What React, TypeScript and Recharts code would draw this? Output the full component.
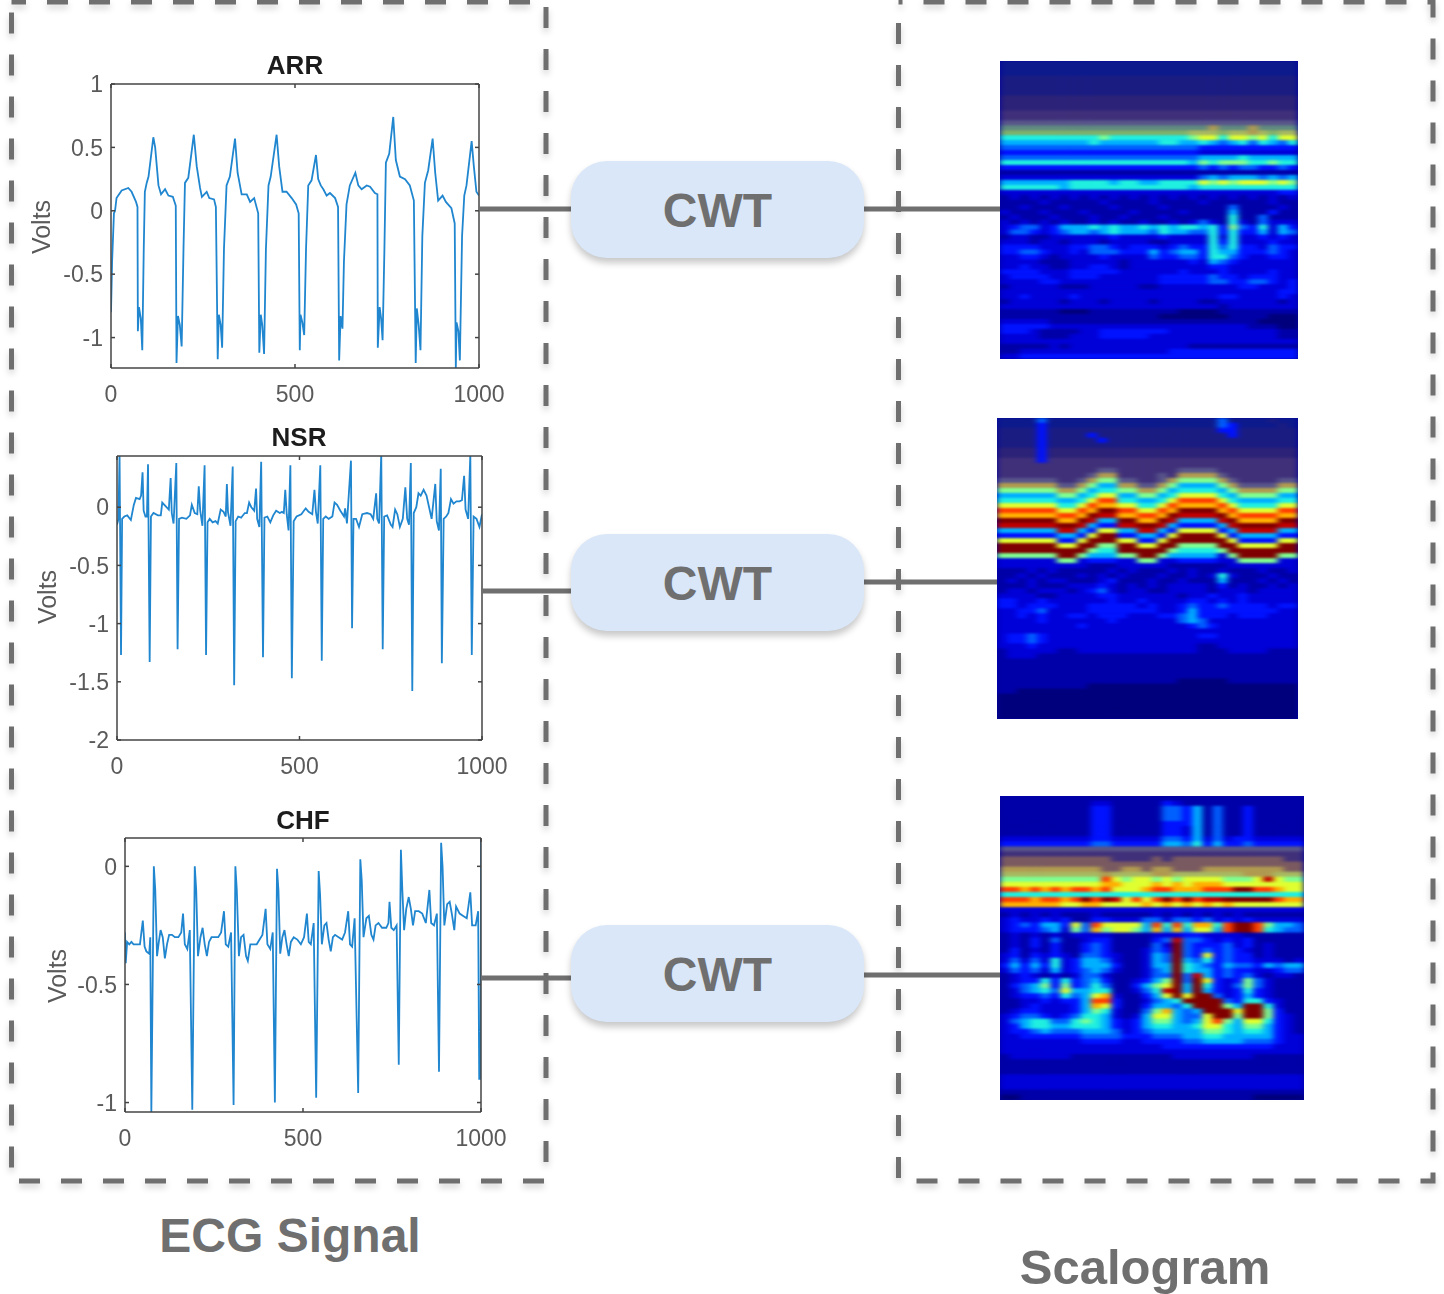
import { LineChart, Line, XAxis, YAxis, ScatterChart, Scatter } from 'recharts';

// ECG traces: [sample, volts]
const arrSignal = [
  [0,-0.8],[3,-0.4],[8,-0.02],[11,0],[15,0.1],[29,0.16],[47,0.18],[56,0.15],[68,0.07],[72,0.03],[73,-0.95],[76,-0.76],[81,-0.85],[85,-1.1],[89,-0.3],[92,0.15],[97,0.22],[102,0.27],[115,0.58],[120,0.5],[129,0.2],[136,0.13],[147,0.17],[156,0.12],[168,0.11],[176,0.04],
  [178,-1.2],[182,-0.83],[187,-0.9],[192,-1.07],[197,-0.3],[201,0.22],[210,0.26],[225,0.6],[233,0.35],[242,0.18],[247,0.11],[260,0.15],[267,0.1],[280,0.09],[285,0.03],
  [290,-1.17],[293,-0.82],[298,-0.9],[302,-1.08],[307,-0.3],[314,0.2],[323,0.27],[337,0.57],[344,0.3],[355,0.13],[369,0.13],[378,0.07],[389,0.1],[400,-0.02],
  [403,-1.12],[407,-0.82],[411,-0.9],[416,-1.13],[421,-0.3],[428,0.2],[434,0.27],[450,0.6],[457,0.35],[466,0.15],[477,0.15],[491,0.1],[503,0.05],[510,-0.02],
  [513,-1.1],[515,-0.82],[520,-0.88],[525,-0.98],[530,-0.3],[536,0.2],[545,0.24],[557,0.44],[563,0.25],[570,0.2],[577,0.17],[586,0.12],[595,0.14],[609,0.1],[617,0.03],
  [620,-1.18],[624,-0.83],[629,-0.93],[633,-0.4],[640,0.05],[649,0.2],[664,0.3],[672,0.2],[681,0.17],[695,0.2],[704,0.19],[717,0.14],[724,0.13],
  [725,-1.08],[730,-0.76],[734,-0.85],[738,-1.02],[743,-0.3],[747,0.38],[756,0.45],[767,0.74],[774,0.4],[785,0.27],[799,0.25],[812,0.2],[823,0.08],
  [828,-1.2],[831,-0.77],[836,-0.9],[841,-1.1],[846,-0.2],[853,0.22],[862,0.32],[874,0.57],[881,0.3],[889,0.08],[901,0.12],[910,0.07],[925,0.02],[934,-0.1],
  [937,-1.24],[939,-0.88],[944,-0.95],[948,-1.18],[954,-0.2],[960,0.12],[966,0.2],[980,0.55],[986,0.35],[993,0.15],[1000,0.12],
];

const nsrSignal = [
  [0,-0.15],[4,-0.1],[7,0.45],[11,-1.27],[14,-0.1],[20,-0.08],[28,-0.07],[38,-0.11],[46,0.02],[52,0.08],[62,0.07],[66,0.1],[70,0.3],[73,-0.03],[78,-0.08],[82,-0.08],[85,0.37],[89.5,-1.33],[93,-0.08],[100,-0.05],[112,-0.07],[120,-0.07],[124,0.04],[133,0.01],[142,-0.02],[147,0.25],[150,-0.05],[155,-0.14],[162.5,0.38],[166,-1.22],[170,-0.1],[178,-0.09],[190,-0.1],[200,-0.07],[205,0.02],[213,-0.05],[220,-0.06],[224,0.18],[228,-0.03],[234,-0.16],[240,0.36],[244,-1.27],
  [248,-0.13],[254,-0.1],[262,-0.13],[270,-0.12],[276,-0.14],[284,-0.02],[292,-0.04],[298,-0.08],[301,0.2],[304,-0.04],[311,-0.16],[317,0.35],[321,-1.53],[325,-0.12],[332,-0.08],[340,-0.09],[350,-0.05],[356,-0.05],[362,0.04],[368,0],[376,-0.03],[381,0.16],[384,-0.1],[390,-0.17],[395,0.39],[400,-1.29],[404,-0.09],[412,-0.08],[420,-0.13],[428,-0.07],[436,-0.03],[446,-0.05],[452,-0.04],[457,-0.05],[461,0.15],[465,-0.06],[470,-0.2],[475,0.36],[479,-1.47],
  [484,-0.12],[492,-0.08],[505,-0.06],[512,-0.03],[517,-0.01],[525,-0.04],[535,-0.06],[541,0.15],[545,-0.04],[550,-0.14],[557,0.36],[561,-1.32],[565,-0.1],[572,-0.08],[580,-0.1],[590,-0.08],[596,0.04],[603,0.02],[612,-0.03],[622,-0.08],[625,-0.01],[630,-0.14],[641,0.4],[644,-1.04],[648,-0.1],[655,-0.1],[663,-0.17],[672,-0.06],[685,-0.05],[695,-0.06],[702,-0.1],[710,0.12],[713,-0.1],[718,-0.14],[724,0.46],[728,-1.22],
  [732,-0.08],[740,-0.07],[750,-0.15],[755,-0.17],[762,-0.02],[768,-0.06],[775,-0.17],[783,-0.1],[790,0.17],[795,-0.1],[800,-0.15],[805,0.38],[809,-1.58],[813,-0.05],[820,0],[826,0.12],[832,0.1],[840,0.15],[848,0.1],[855,0],[862,-0.1],[872,0.2],[876,-0.12],[882,-0.2],[887,0.33],[890,-1.34],[895,-0.1],[902,-0.08],[908,-0.05],[915,0.07],[922,0.03],[930,0.05],[938,0.05],[945,0.06],[951,0.27],[955,-0.02],[962,-0.1],[968,0.45],[972,-1.27],[977,-0.08],[985,-0.1],[993,-0.17],[1000,-0.06],
];

const chfSignal = [
  [0,-0.28],[2,-0.41],[6,-0.32],[12,-0.33],[18,-0.32],[24,-0.33],[30,-0.33],[36,-0.33],[42,-0.33],[50,-0.23],[55,-0.34],[60,-0.36],[68,-0.37],[71,-0.3],[74,-1.04],[81,0],[85,-0.1],[90,-0.38],[95,-0.32],[100,-0.27],[106,-0.3],[112,-0.39],[118,-0.33],[124,-0.29],[132,-0.29],[140,-0.3],[150,-0.3],[158,-0.28],[163,-0.2],[168,-0.33],[175,-0.35],[182,-0.27],[189,-1.03],[196,0],[200,-0.1],[205,-0.38],[212,-0.3],[218,-0.26],[224,-0.33],[230,-0.38],[236,-0.32],[243,-0.3],[252,-0.3],[262,-0.3],[270,-0.28],[278,-0.19],[283,-0.33],[290,-0.34],[298,-0.28],[305,-1.01],[310,0],[314,-0.1],[320,-0.38],[326,-0.3],[333,-0.29],[340,-0.38],[345,-0.4],[352,-0.33],[360,-0.33],[370,-0.33],[378,-0.31],[386,-0.29],[395,-0.18],[400,-0.33],[408,-0.35],[415,-0.28],[421,-1],[427,-0.01],[431,-0.1],[436,-0.37],[442,-0.3],[448,-0.27],[454,-0.33],[460,-0.38],[466,-0.32],[474,-0.3],[484,-0.31],[494,-0.33],[503,-0.3],[511,-0.2],[516,-0.32],[522,-0.33],[530,-0.24],[537,-0.98],[544,-0.02],[548,-0.12],[553,-0.33],[560,-0.25],[566,-0.24],[572,-0.31],[578,-0.36],[584,-0.3],[590,-0.29],[600,-0.3],[610,-0.31],[618,-0.28],[627,-0.19],[632,-0.33],[638,-0.34],[645,-0.22],[655,-0.96],[661,0.03],[665,-0.06],[670,-0.3],[678,-0.22],[685,-0.21],[692,-0.29],[698,-0.31],[704,-0.25],[712,-0.24],[722,-0.26],[734,-0.26],[740,-0.24],[743,-0.15],[748,-0.26],[755,-0.27],[763,-0.25],[769,-0.84],[775,0.07],[779,-0.1],[784,-0.27],[790,-0.18],[797,-0.13],[803,-0.18],[809,-0.25],[815,-0.19],[825,-0.19],[835,-0.2],[845,-0.24],[855,-0.1],[860,-0.24],[868,-0.25],[876,-0.2],[882,-0.87],[888,0.1],[892,0],[897,-0.25],[905,-0.16],[912,-0.15],[918,-0.2],[925,-0.27],[930,-0.17],[940,-0.2],[950,-0.21],[960,-0.22],[970,-0.11],[975,-0.25],[985,-0.25],[992,-0.19],[995,-0.9],[999,-0.9],[1000,0.12],[1000,0],
];

const arrTicks = [-1, -0.5, 0, 0.5, 1];
const nsrTicks = [-2, -1.5, -1, -0.5, 0];
const chfTicks = [-1, -0.5, 0];
const sampleTicks = [0, 500, 1000];

// scalogram intensity, one string per row of 30 columns
const arrScalogram = [
  'mmmmmmmmmm mmmmmmmmmm mmmmmmmmmm','mmmmmmmmmm mmmmmmmmmm mmmmmmmmmm','mmmmmmmmmm mmmmmmmmmm mmmmmmmmmm',
  'nnnnnnnnnn nnnnnnnnnn nnnnnnnnnn','nnnnnnnnnn nnnnnnnnnn nnnnnnnnnn','nnnnnnnnnn nnnnnnnnnn nnnnnnnnnn','nnnnnnnnnn nnnnnnnnnn nnnnnnnnnn',
  'oooooooooo oooooooooo oooooooooo','oooooooooo oooooooooo oooooooooo','oooooooooo oooooooooo oooooooooo',
  'pppppppppp pppppppppp pppppppppp','pppppppppp pppppppppp pppppppppp',
  'qqqqqqqqqq qqqqqqqqqq qqqqqqqqqq','rrrrrrrrrr rrrrrrrrrr rtrrrtrrrr',
  'ssssssssss sssssssssv vvsvvtvsvv','6666666666 7666666667 8868878688','5555555556 5555556655 6545646546',
  '4444444444 4444444444 3333333333','3333333333 3333333333 2222222222','4444444444 4444444444 5555655555',
  '6666666666 6666666665 7677766766','3333333333 3333333333 4343443343','1111111111 1111111111 1111111111',
  '2222222222 2222222222 4545554545','5555555666 6566556666 8787888787','6666665666 6666666665 6666666666',
  '2222222222 2222222222 2222222233','1212121212 1212121212 1212121212','1111211111 2111121111 2111111211',
  '1121112111 1211112111 1114111121','2111211121 1112111121 1115111311','1211121112 1121112111 1116114111',
  '2121212112 1211211212 4216214222','2344235556 5655656566 5637436253','2443234554 5655546554 4636335254',
  '1221122222 2322223222 2626223232','2221221222 1222211222 2636222322','3333222334 4323332343 3646332433',
  '3344322324 4433353455 3655333432','2233212222 3222243344 3664322332','2222111222 2212222223 2543222222',
  '2232211223 3212222222 2332222222','3333222333 3322222232 2232222322','2333322333 2222223333 3433233322',
  '2222332222 2222223333 3443344323','1222221112 2222112222 2222332223','2222222222 2222222222 2222222233',
  '2232222322 2222222222 2233222232','1222221222 1222212222 1122222212','2222222222 2222222222 2212222222',
  '1111110001 1111111100 0011111111','1111111111 1111110000 0001111000','2222211111 1111111111 1111110000',
  '3333322222 2222222222 2222211100','3332111122 3333333222 2222222211','2222111222 3333322222 2222222211',
  '2222222222 2222222222 2222222222','1111121222 2222222221 1111111111','1122222222 2222222333 3333333333','2233333333 3333333333 3333333333',
];

const nsrScalogram = [
  'mmmm4mmmmm mmmmmmmmmm mm4mmmmnmm','mmmm3mmmmm mmmmmmmmmm mm43mmmmnm','nnnn3nnnnn nnnnnnnnnn nn33nnnnnn',
  'nnnn3nnnn3 nnnnnnnnnn nnn3nnnnnn','nnnn3nnnnn 3nnnnnnnnn nnnnnnnnnn','nnnn3nnnnn nnnnnnnnnn nnnnnnnnnn',
  'oooo3ooooo oooooooooo oooooooooo','oooo3ooooo oooooooooo oooooooooo','pppp3ppppp pppppppppp pppppppppp','pppppppppp pppppppppp pppppppppp',
  'pppppppppp qqppppppqq qqpppppppp','pppppppppq ttppppqptt ttqppppppp',
  'qqqqqqppqt 77qqppqt77 77tqppppqq','ttttttqqt7 55ttqqt755 557tqqqqtt','777777tt75 6677tt7566 6657tttt77',
  '5555557756 8855775688 8865777755','6666665568 aa665568aa aa86555566','888888668a 9988668a99 99a8666688',
  'aaaaaa88a9 ccaa88a9cc cc9a8888aa','999999aa9c bb99aa9cbb bbc9aaaa99','cccccc99cb 55cc99cb55 55bc9999cc',
  'bbbbbbccb5 33bbccb533 335bccccbb','555555bb53 8855bb5388 8835bbbb55','3333335538 cc33553 8cc cc83555533',
  '888888338c cc88338ccc ccc8333388','cccccc88cc 77cc88cc77 77cc8888cc','cccccccc c7 66ccccc766 667ccccccc',
  '777777cc75 5577cc7555 5527cccc77','2222227723 3322772233 3322777722','2222222221 1122222111 1112222222',
  '1112121111 1212111212 1121112112','1121211121 2121112112 1262111211','1212122111 2311121121 1151112121',
  '1112111222 3212121222 2131211212','1221222123 4212211222 2122212222','2222112222 3322222212 2322322222',
  '3322322222 2322322223 3232322222','3323332223 3333232234 3343333233','2233422223 3333332235 3333333322',
  '2232322332 3332223345 3332333222','2222322222 2322222245 4222222222','2222222232 2222222223 4322222222',
  '2222222222 2222222222 2222222222','2334322222 2222222222 3322222222','2334322222 2222222222 2222222222',
  '2223222222 2222222222 1122222222','1222221122 2222222222 1112222111','1222111111 1111111111 1111111111',
  '1111111111 1111111111 1111111111','1111111111 1111111111 1111111111','1111111111 1111111111 1111111111',
  '1111111111 1111111111 1111111111','1111111111 1111111100 0001111111','1111111110 0000000000 0000000000',
  '1100000000 0000000000 0000000000','0000000000 0000000000 0000000000','0000000000 0000000000 0000000000',
  '0000000000 0000000000 0000000000','0000000000 0000000000 0000000000','0000000000 0000000000 0000000000',
];

const chfScalogram = [
  '1111111111 1111111111 1111111111','1111111112 2111113211 1111111111','1111111113 3111114435 1411311111',
  '1111111113 3111114435 1411311111','1111111113 3111114435 1411311111','1111111113 3111113335 1411311111',
  '1111111113 3111113325 1411311111','1111111113 3111113325 1411311111','2222222223 3222224435 2423322222',
  '3333333334 4333335546 3533433333','qqqqqqqqqq qqqqqqqqqq qqqqqqqqqq','pppppppppp pppppppppp pppppppppp',
  'uuuuuuuuuu uppppupuuu uuuuuuuupp','uuuuuuuuuu uuuuuuuuuu uuuuuuuuuu','tttttttttt uuttuttuuu ttttttttuu',
  'vvvvvvvvvv tvvvvttvvv vvvvtttvvv','7777777777 a878878788 887778b877','8888888888 9988898989 9988888888',
  'aa9a9a9aa9 a8889aa999 aaaccaa988','6666666666 6666666666 6666666666','aaa9aa9aca cb8a8acaca bbccccca99',
  '9999998899 8888989898 9898888888','2222222222 2222222222 2222222222','1212121112 1111121212 1212111111',
  '2322323113 3222442443 4232322222','234355384a 88885a6a69 96acca7554','2333452749 7887595958 85acca6544',
  '1212121222 2111122233 2222111111','1213141123 3111134b44 3232311111','1213131134 3111142c43 3342312111',
  '1312131134 3111243c43 4343212111','2313232144 3211254c43 8343312111','2424262355 4211254c54 6343322212',
  '3535362355 5311255c65 4354435455','2434252345 4211245c65 5343322344','1232121244 2111244c4b 5343421221',
  '1233636345 3112357c4c 8323742111','1345737346 4113578c5c 6324742111','1245648556 611246bc5c 5323632111',
  '1233436458 9211358c8c c423532111','112232335a a3112456cc cc43663211','1123222359 831135546c cc75cc6211',
  '1233222357 6211479545 ccc8cc7311','2344323466 5212588544 8cc7cc7321','2456644676 5323577545 8a75886321',
  '2356655666 5323566556 8865775321','2334544455 5423455555 7765665321','2233333344 4433344455 6655555322',
  '2222222233 3322333344 5555444322','2222222222 2222223333 3333333222','2222222222 2222222222 2222222222',
  '1222222111 1111111222 2222211111','1111111111 1111111111 1111111111','1111111111 1111111111 1111111111',
  '1111111111 1111111111 1111111111','2222222222 2222222222 2222222222','2222222222 2222222222 2222222222',
  '2222222222 2222222222 2222222222','1111111111 1111111111 1111111111','0011111111 1111111111 1111100000',
];

const cellColors: Record<string, string> = {
  '0': '#00007c', '1': '#0000a8', '2': '#0000d8', '3': '#0012ff', '4': '#0060ff', '5': '#00b0ff', '6': '#20f0e0',
  '7': '#80ff90', '8': '#e0ff30', '9': '#ffb000', a: '#ff4000', b: '#c00000', c: '#800000',
  m: '#0d1a8c', n: '#1a1c82', o: '#2c2278', p: '#40307a', q: '#58558a', r: '#5f8a80', s: '#7fb06a',
  t: '#b09a50', u: '#7a5a60', v: '#a8b860',
};

const COLS = 30;
const ROWS = 60;

const toCells = (rows: string[]) => {
  const cells: { col: number; row: number; v: string }[] = [];
  rows.forEach((text, row) => {
    const chars = text.replace(/\s/g, '');
    for (let col = 0; col < COLS; col++) {
      const v = chars[col] ?? chars[chars.length - 1];
      cells.push({ col: col + 0.5, row: row + 0.5, v });
    }
  });
  return cells;
};

const GREY = '#6f6f6f';
const FONT = '"Liberation Sans", Arial, sans-serif';
const NoLabel = () => <g />;

function EcgPanel({ title, signal, domain, ticks, x, y, w, h, titleX, titleY, voltsX, voltsY }: any) {
  const data = signal.map(([sample, volts]: number[]) => ({ sample, volts }));
  const tickStyle = { fill: '#5a5a5a', fontSize: 23, fontFamily: FONT };
  return (
    <>
      <div style={{ position: 'absolute', left: x - 60, top: y - 30, filter: 'blur(0.5px)' }}>
        <LineChart width={w + 91} height={h + 80} data={data} margin={{ top: 29, right: 30, bottom: 0, left: 0 }}>
          <XAxis dataKey="sample" type="number" domain={[0, 1000]} ticks={sampleTicks} height={50} allowDataOverflow
            stroke="#444" strokeWidth={1.5} tickSize={-4} tickMargin={22} tick={tickStyle} interval={0} />
          <XAxis xAxisId="top" orientation="top" dataKey="sample" type="number" domain={[0, 1000]} ticks={sampleTicks} height={1}
            allowDataOverflow stroke="#444" strokeWidth={1.5} tickSize={-4} tick={NoLabel} />
          <YAxis type="number" domain={domain} ticks={ticks} width={60} allowDataOverflow
            stroke="#444" strokeWidth={1.5} tickSize={-4} tickMargin={12} tick={tickStyle} interval={0} />
          <YAxis yAxisId="right" orientation="right" type="number" domain={domain} ticks={ticks} width={1}
            allowDataOverflow stroke="#444" strokeWidth={1.5} tickSize={-4} tick={NoLabel} />
          <Line dataKey="volts" type="linear" stroke="#1f86cf" strokeWidth={1.8} dot={false} isAnimationActive={false} />
        </LineChart>
      </div>
      <div style={{ position: 'absolute', left: titleX - 60, width: 120, top: titleY - 15, lineHeight: '30px', textAlign: 'center',
        fontFamily: FONT, fontWeight: 700, fontSize: 26, color: '#1c1c1c', filter: 'blur(0.4px)' }}>{title}</div>
      <div style={{ position: 'absolute', left: voltsX - 50, width: 100, top: voltsY - 15, lineHeight: '30px', textAlign: 'center',
        fontFamily: FONT, fontSize: 25, color: '#5a5a5a', transform: 'rotate(-90deg)', filter: 'blur(0.4px)' }}>Volts</div>
    </>
  );
}

function Scalogram({ rows, x, y, w, h }: any) {
  const cellW = w / COLS + 0.6;
  const cellH = h / ROWS + 0.6;
  const Cell = (props: any) => (
    <rect x={props.cx - cellW / 2} y={props.cy - cellH / 2} width={cellW} height={cellH} fill={cellColors[props.payload.v]} />
  );
  return (
    <div style={{ position: 'absolute', left: x, top: y, width: w, height: h, overflow: 'hidden', background: '#0000a0' }}>
      <div style={{ filter: 'url(#scaloBlur)' }}>
        <ScatterChart width={w} height={h} margin={{ top: 0, right: 0, bottom: 0, left: 0 }}>
          <XAxis dataKey="col" type="number" domain={[0, COLS]} hide />
          <YAxis dataKey="row" type="number" domain={[0, ROWS]} reversed hide />
          <Scatter data={toCells(rows)} shape={Cell} isAnimationActive={false} />
        </ScatterChart>
      </div>
    </div>
  );
}

function Pill({ y }: { y: number }) {
  return (
    <div style={{ position: 'absolute', left: 571, top: y, width: 293, height: 97, borderRadius: 36, background: '#d9e7f9',
      boxShadow: '0 5px 7px rgba(0,0,0,0.22)', textAlign: 'center', lineHeight: '99px', fontFamily: FONT, fontWeight: 700, fontSize: 48, color: GREY }}>
      CWT
    </div>
  );
}

const connectors = [
  [479, 571, 209], [864, 1000, 209],
  [481, 571, 591], [864, 997, 582],
  [481, 571, 978], [864, 1000, 975],
];

export default function App() {
  return (
    <div style={{ position: 'absolute', left: 0, top: 0, width: 1444, height: 1294, background: '#fff', overflow: 'hidden' }}>
      <svg width={0} height={0} style={{ position: 'absolute' }}>
        <filter id="scaloBlur" x="0" y="0" width="100%" height="100%" colorInterpolationFilters="sRGB">
          <feGaussianBlur stdDeviation="3 1.3" edgeMode="duplicate" />
        </filter>
      </svg>
      <svg width={1444} height={1294} style={{ position: 'absolute', left: 0, top: 0, filter: 'drop-shadow(0 4px 3px rgba(0,0,0,0.18))' }}>
        <rect x={11.5} y={2} width={534.5} height={1179} fill="none" stroke={GREY} strokeWidth={5} strokeDasharray="21 21" strokeDashoffset={6.5} />
        <rect x={898.5} y={2} width={534.5} height={1179} fill="none" stroke={GREY} strokeWidth={5} strokeDasharray="21 21" strokeDashoffset={17} />
      </svg>

      <EcgPanel title="ARR" signal={arrSignal} domain={[-1.24, 1]} ticks={arrTicks} x={111} y={84} w={368} h={284}
        titleX={295} titleY={65} voltsX={41} voltsY={227} />
      <EcgPanel title="NSR" signal={nsrSignal} domain={[-2, 0.44]} ticks={nsrTicks} x={117} y={456} w={365} h={284}
        titleX={299} titleY={437} voltsX={47} voltsY={597} />
      <EcgPanel title="CHF" signal={chfSignal} domain={[-1.04, 0.12]} ticks={chfTicks} x={125} y={838} w={356} h={274}
        titleX={303} titleY={820} voltsX={57} voltsY={976} />

      <svg width={1444} height={1294} style={{ position: 'absolute', left: 0, top: 0 }}>
        {connectors.map(([x1, x2, y]) => (
          <line key={`${x1}-${y}`} x1={x1} x2={x2} y1={y} y2={y} stroke={GREY} strokeWidth={5} />
        ))}
      </svg>

      <Scalogram rows={arrScalogram} x={1000} y={61} w={298} h={298} />
      <Scalogram rows={nsrScalogram} x={997} y={418} w={301} h={301} />
      <Scalogram rows={chfScalogram} x={1000} y={796} w={304} h={304} />

      <Pill y={161} />
      <Pill y={534} />
      <Pill y={925} />

      <div style={{ position: 'absolute', left: 90, width: 400, top: 1206, lineHeight: '60px', textAlign: 'center',
        fontFamily: FONT, fontWeight: 700, fontSize: 48, color: GREY }}>ECG Signal</div>
      <div style={{ position: 'absolute', left: 945, width: 400, top: 1237, lineHeight: '60px', textAlign: 'center',
        fontFamily: FONT, fontWeight: 700, fontSize: 49, color: GREY }}>Scalogram</div>
    </div>
  );
}
